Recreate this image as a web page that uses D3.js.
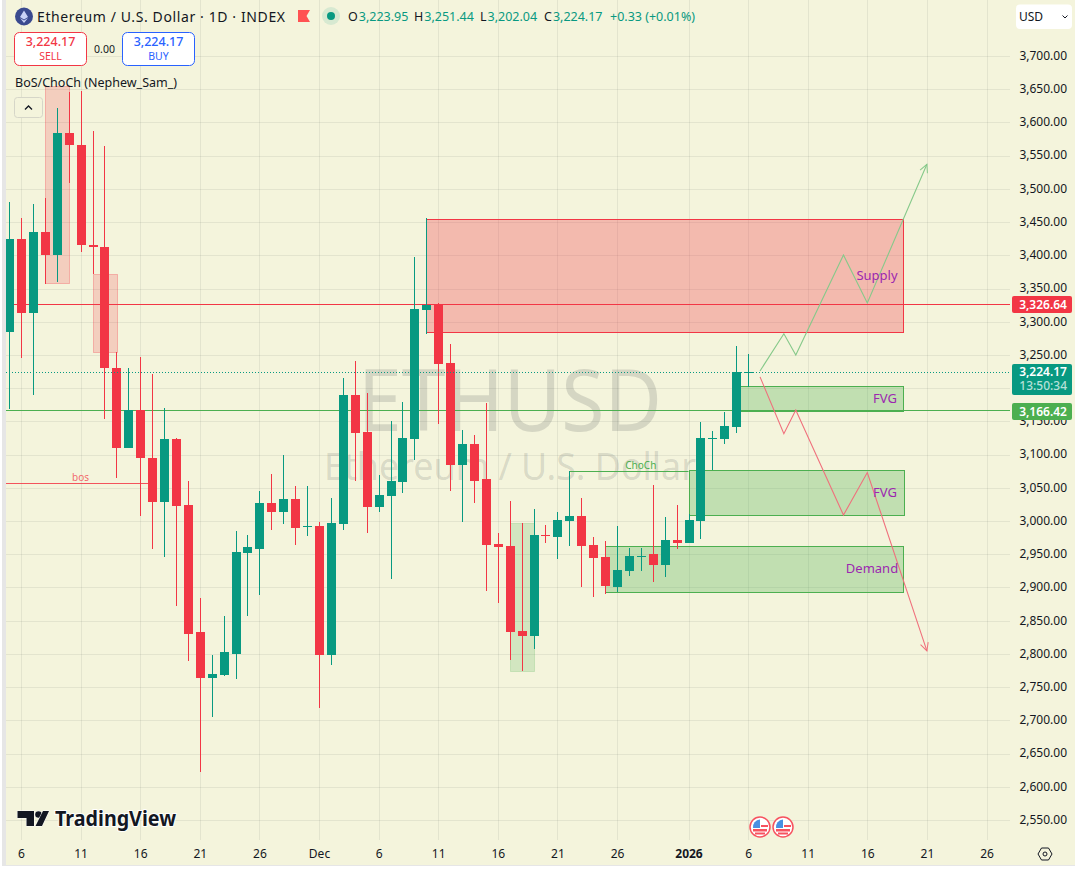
<!DOCTYPE html>
<html>
<head>
<meta charset="utf-8">
<title>ETHUSD</title>
<script src="https://cdn.jsdelivr.net/npm/d3@7"></script>
<style>
  html, body { margin: 0; padding: 0; background: #fff; overflow: hidden; }
  svg { display: block; font-family: "Noto Sans", sans-serif; }
  .domain, .tick line { display: none; }
</style>
</head>
<body>
<script>
// daily candles, first one is 5 Nov (day -1), last one is 6 Jan (day 61)
const opens = [3285,3424.5,3313.6,3435.1,3400.5,3584.1,3566,3415.5,3412.5,3230.8,3110.4,3167.1,3095.4,3029.1,3123.5,3024.2,2833,2764.2,2768.3,2800.3,2951.9,2958.4,3027.2,3014,3033.2,2991,2992.5,2798.8,2996,3189.7,3134,3021.6,3037.7,3059,3124,3317.7,3325.6,3237.9,3084.8,3116,3063.3,2965.4,2962.4,2834.5,2827,2979.5,2976,3000,3007.6,2963.9,2945.9,2900.7,2924.8,2946,2950.4,2933.8,2971.5,2967,3000.5,3124.5,3124,3142,3223.95];
const highs = [3480.2,3456.2,3477.2,3486.3,3621.7,3645.8,3647.3,3587.1,3564.5,3254.5,3230.4,3247,3221.3,3170.2,3125,3060.3,2884.2,2798.4,2857.1,2985,2979,3045.2,3070.8,3099.4,3052.8,3052.8,2998.6,3034.7,3215.3,3240.9,3192.7,3069.3,3150.6,3179.2,3397.4,3455.7,3328.2,3266.5,3137,3129.5,3177.7,2982,3030.2,2997,3018.1,2994,3013.6,3075.3,3034.7,2976,2970,2992.5,2959.4,2959.4,3054.3,3006.1,3024.2,3010,3149.1,3135.5,3164.6,3263.5,3251.44];
const lows = [3169.1,3245.9,3190.2,3357.3,3360.3,3509.3,3405.4,3371.9,3154,3065.2,3110,3008,2958.4,2946.3,2872.6,2789.8,2622.7,2705.5,2766.8,2762.2,2857.5,2888.7,2987,2996,2964.4,2977.9,2719,2783.8,2987,3060.7,2982.5,3014,2913.2,3042.7,3092.3,3281.5,3146.5,3045.7,2999,3027.6,2895.2,2877.1,2790.8,2774.3,2807.4,2967,2942.9,2962.4,2900.7,2885.7,2890.6,2893.2,2917.3,2924.8,2908.2,2915.8,2958,2967,2973,3076.8,3116.4,3133,3202.04];
const closes = [3424.5,3313.6,3435.1,3400.5,3584.1,3566,3415.5,3412.5,3230.8,3110.4,3167.1,3095.4,3029.1,3123.5,3023.1,2830.4,2764.2,2769.8,2802.9,2953.4,2960.9,3027.2,3014,3033.2,2990,2992.5,2798.8,2997,3189.7,3133,3021.6,3039.2,3060.3,3125,3319.2,3325.6,3236.8,3084.8,3116,3060.7,2963.9,2960.9,2833,2827,2979,2978,3001.6,3007.6,2962.4,2944.4,2902.2,2926.3,2947.4,2948,2933.8,2971.5,2967,3001.6,3125,3125.5,3143,3224,3224.17];
const firstDay = -1;

const priceTicks = d3.range(2550, 3701, 50);
const dayTicks = [0, 5, 10, 15, 20, 25, 30, 35, 40, 45, 50, 56, 61, 66, 71, 76, 81];
const dayLabels = ["6", "11", "16", "21", "26", "Dec", "6", "11", "16", "21", "26", "2026", "6", "11", "16", "21", "26"];

// zones: [first day, last day, top price, bottom price]
const redBoxes = [[2, 4, 3654.8, 3358.8], [6, 8, 3371.9, 3254]];
const greenBoxes = [[41, 43, 2996.6, 2773.8]];
const supplyZones = [[34, 74, 3454.2, 3284.1]];
const demandZones = [[60, 74, 3202.8, 3165.6], [56, 74, 3076.4, 3008.6], [49, 74, 2962, 2892.7]];

// projected paths
const upDays = [62, 64, 65, 69, 71, 76];
const upPrices = [3225.9, 3282, 3250, 3400.5, 3328.2, 3537];
const downDays = [62, 64, 65, 69, 71, 76];
const downPrices = [3217, 3131.5, 3167, 3009, 3073, 2804.5];

const redLevel = 3326.64;
const greenLevel = 3166.42;
const lastPrice = 3224.17;
const bosLevel = 3056.8;
const chochLevel = 3075;

const green = "#089981", red = "#f23645", zoneGreen = "#4caf50", ink = "#131722", bg = "#f4f4dc";
const W = 1075, H = 869;

const svg = d3.select("body").append("svg").attr("width", W).attr("height", H);
const x = d3.scaleLinear().domain([0, 81]).range([21, 986.5]);
const y = d3.scaleLinear().domain([2550, 3700]).range([820, 56]);
const px = v => Math.round(v) + 0.5;

svg.append("rect").attr("width", W).attr("height", H).attr("fill", "#fff");
svg.append("rect").attr("x", 2).attr("y", 0).attr("width", W - 2).attr("height", 866).attr("fill", "#e6e6e6");
svg.append("rect").attr("x", 6).attr("y", 0).attr("width", W - 6).attr("height", 865).attr("fill", bg);

svg.append("clipPath").attr("id", "plot").append("rect")
    .attr("x", 6).attr("y", 0).attr("width", 1004).attr("height", 840);
const plot = svg.append("g").attr("clip-path", "url(#plot)");

// grid
plot.selectAll(".gx").data(dayTicks).join("line")
    .attr("x1", d => px(x(d))).attr("x2", d => px(x(d)))
    .attr("y1", 0).attr("y2", 840)
    .attr("stroke", "#2a2e39").attr("stroke-opacity", 0.08);
plot.selectAll(".gy").data(priceTicks).join("line")
    .attr("x1", 6).attr("x2", 1010)
    .attr("y1", d => px(y(d))).attr("y2", d => px(y(d)))
    .attr("stroke", "#2a2e39").attr("stroke-opacity", 0.08);

// watermark
plot.append("text").attr("x", 510).attr("y", 431).attr("text-anchor", "middle")
    .attr("font-size", 86).attr("textLength", 304).attr("lengthAdjust", "spacingAndGlyphs")
    .attr("fill", "#2a2e39").attr("fill-opacity", 0.15).text("ETHUSD");
plot.append("text").attr("x", 510).attr("y", 480).attr("text-anchor", "middle")
    .attr("font-size", 39).attr("textLength", 372).attr("lengthAdjust", "spacingAndGlyphs")
    .attr("fill", "#2a2e39").attr("fill-opacity", 0.15).text("Ethereum / U.S. Dollar");

function drawZones(data, fill, opacity, stroke, strokeOpacity) {
    plot.append("g").selectAll("rect").data(data).join("rect")
        .attr("x", d => px(x(d[0])))
        .attr("y", d => px(y(d[2])))
        .attr("width", d => Math.round(x(d[1]) - x(d[0])))
        .attr("height", d => Math.round(y(d[3]) - y(d[2])))
        .attr("fill", fill).attr("fill-opacity", opacity)
        .attr("stroke", stroke).attr("stroke-opacity", strokeOpacity);
}
drawZones(redBoxes, red, 0.2, red, 0.3);
drawZones(greenBoxes, zoneGreen, 0.2, zoneGreen, 0.2);
drawZones(supplyZones, red, 0.3, red, 1);
drawZones(demandZones, zoneGreen, 0.3, zoneGreen, 1);

// horizontal levels
function level(price, x1, x2, color, opacity) {
    plot.append("line")
        .attr("x1", x1).attr("x2", x2)
        .attr("y1", px(y(price))).attr("y2", px(y(price)))
        .attr("stroke", color).attr("stroke-opacity", opacity || 1);
}
level(redLevel, 6, 1012, red);
level(greenLevel, 6, 1012, zoneGreen);
level(bosLevel, 6, x(11), red, 0.85);
level(chochLevel, x(46), x(56), zoneGreen);

plot.append("text").attr("x", x(5)).attr("y", 481).attr("text-anchor", "middle")
    .attr("font-size", 10).attr("fill", red).attr("fill-opacity", 0.75).text("bos");
plot.append("text").attr("x", x(52)).attr("y", 469).attr("text-anchor", "middle")
    .attr("font-size", 10).attr("fill", zoneGreen).text("ChoCh");

// candles
const candles = opens.map((o, i) => ({ day: firstDay + i, o, h: highs[i], l: lows[i], c: closes[i] }));
const isUp = d => d.c >= d.o;
const candleG = plot.append("g");
candleG.selectAll("line").data(candles).join("line")
    .attr("x1", d => px(x(d.day))).attr("x2", d => px(x(d.day)))
    .attr("y1", d => Math.round(y(d.h))).attr("y2", d => Math.round(y(d.l)))
    .attr("stroke", d => isUp(d) ? green : red);
candleG.selectAll("rect").data(candles).join("rect")
    .attr("x", d => Math.round(x(d.day)) - 4)
    .attr("width", 9)
    .attr("y", d => Math.round(y(Math.max(d.o, d.c))))
    .attr("height", d => Math.max(1, Math.round(y(Math.min(d.o, d.c))) - Math.round(y(Math.max(d.o, d.c)))))
    .attr("fill", d => isUp(d) ? green : red);

// last price dotted line
plot.append("line")
    .attr("x1", 6).attr("x2", 1012)
    .attr("y1", px(y(lastPrice))).attr("y2", px(y(lastPrice)))
    .attr("stroke", green).attr("stroke-dasharray", "1 2");

// projected paths with open arrow heads
const defs = svg.append("defs");
function arrowPath(days, prices, color, id) {
    defs.append("marker").attr("id", id)
        .attr("viewBox", "-10 -6 12 12").attr("refX", 0).attr("refY", 0)
        .attr("markerWidth", 12).attr("markerHeight", 12).attr("markerUnits", "userSpaceOnUse")
        .attr("orient", "auto")
        .append("path").attr("d", "M-8,-4 L0,0 L-8,4").attr("fill", "none").attr("stroke", color);
    const line = d3.line().x(d => x(d)).y((d, i) => y(prices[i]));
    plot.append("path").attr("d", line(days)).attr("fill", "none")
        .attr("stroke", color).attr("stroke-width", 1.1)
        .attr("marker-end", `url(#${id})`);
}
arrowPath(upDays, upPrices, "#86c98a", "arrow-up");
arrowPath(downDays, downPrices, "#f0707c", "arrow-down");

// zone labels
const zoneLabels = [["Supply", 877, 280], ["FVG", 885, 403], ["FVG", 885, 497], ["Demand", 872, 573]];
plot.selectAll(".zl").data(zoneLabels).join("text")
    .attr("x", d => d[1]).attr("y", d => d[2]).attr("text-anchor", "middle")
    .attr("font-size", 13).attr("fill", "#9c27b0").text(d => d[0]);

// axes
const yAxis = svg.append("g").attr("transform", "translate(1067,-0.5)")
    .call(d3.axisRight(y).tickValues(priceTicks).tickFormat(d3.format(",.2f")).tickSize(0));
yAxis.selectAll("text").attr("x", 0).attr("text-anchor", "end")
    .attr("font-size", 12).attr("font-family", "'Noto Sans', sans-serif").attr("fill", ink);

const xAxis = svg.append("g").attr("transform", "translate(0,849)")
    .call(d3.axisBottom(x).tickValues(dayTicks).tickFormat((d, i) => dayLabels[i]).tickSize(0).tickPadding(0));
xAxis.selectAll("text")
    .attr("font-size", 12).attr("font-family", "'Noto Sans', sans-serif").attr("fill", ink)
    .attr("font-weight", (d, i) => dayLabels[i] === "2026" ? 700 : 400);

// price tags on the axis
function priceTag(top, height, color, lines) {
    svg.append("rect").attr("x", 1012).attr("y", top).attr("width", 60).attr("height", height)
        .attr("rx", 2).attr("fill", color);
    lines.forEach(l => svg.append("text").attr("x", 1067).attr("y", l.y).attr("text-anchor", "end")
        .attr("font-size", 12).attr("font-weight", l.weight).attr("fill", l.fill).text(l.text));
}
const money = d3.format(",.2f");
priceTag(296, 17, red, [{ text: money(redLevel), y: 309, fill: "#fff", weight: 600 }]);
priceTag(364, 31, green, [
    { text: money(lastPrice), y: 376, fill: "#fff", weight: 600 },
    { text: "13:50:34", y: 390, fill: "#b5e0d8", weight: 500 }
]);
priceTag(403, 17, zoneGreen, [{ text: money(greenLevel), y: 416, fill: "#fff", weight: 600 }]);

// USD button
svg.append("rect").attr("x", 1016).attr("y", 4.5).attr("width", 56).attr("height", 24.5)
    .attr("rx", 4).attr("fill", "#fff");
svg.append("text").attr("x", 1019).attr("y", 21).attr("font-size", 12).attr("fill", ink).text("USD");
svg.append("path").attr("d", "M1062.5 15.5 L1065 18 L1067.5 15.5").attr("fill", "none").attr("stroke", ink);

// header
svg.append("circle").attr("cx", 24).attr("cy", 16.5).attr("r", 9).attr("fill", "#3a4a8f");
svg.append("path").attr("d", "M24 10.5 L28 17 L24 19.5 L20 17 Z M20 18 L24 20.5 L28 18 L24 23 Z").attr("fill", "#c9d2f5");
svg.append("text").attr("x", 37).attr("y", 21.5).attr("font-size", 14).attr("fill", ink)
    .attr("textLength", 248).attr("lengthAdjust", "spacing").text("Ethereum / U.S. Dollar · 1D · INDEX");
svg.append("path").attr("d", "M298 10 H310 L306.5 16 L310 22 H298 Z").attr("fill", "#ff5252");
svg.append("circle").attr("cx", 331).attr("cy", 16).attr("r", 9).attr("fill", green).attr("fill-opacity", 0.12);
svg.append("circle").attr("cx", 331).attr("cy", 16).attr("r", 4).attr("fill", green);

const ohlc = [["O", 348, opens], ["H", 414, highs], ["L", 480, lows], ["C", 544, closes]];
ohlc.forEach(([letter, left, values]) => {
    const t = svg.append("text").attr("x", left).attr("y", 21).attr("font-size", 12.5).attr("fill", green);
    t.append("tspan").attr("fill", ink).text(letter);
    t.append("tspan").attr("dx", 1).text(money(values[values.length - 1]));
});
svg.append("text").attr("x", 610).attr("y", 21).attr("font-size", 12.5).attr("fill", green).text("+0.33 (+0.01%)");

// sell / buy
function tradeButton(left, color, label) {
    svg.append("rect").attr("x", left).attr("y", 32.5).attr("width", 72).attr("height", 33)
        .attr("rx", 5).attr("fill", "#fff").attr("stroke", color);
    svg.append("text").attr("x", left + 36).attr("y", 46).attr("text-anchor", "middle")
        .attr("font-size", 12.5).attr("font-weight", 500).attr("fill", color).text(money(lastPrice));
    svg.append("text").attr("x", left + 36).attr("y", 60).attr("text-anchor", "middle")
        .attr("font-size", 10.5).attr("fill", color).text(label);
}
tradeButton(14.5, red, "SELL");
tradeButton(122.5, "#2962ff", "BUY");
svg.append("text").attr("x", 104.5).attr("y", 52.5).attr("text-anchor", "middle")
    .attr("font-size", 10.5).attr("fill", ink).text("0.00");

svg.append("text").attr("x", 15).attr("y", 87).attr("font-size", 12.5).attr("fill", ink).text("BoS/ChoCh (Nephew_Sam_)");
svg.append("rect").attr("x", 14.5).attr("y", 97.5).attr("width", 28).attr("height", 20)
    .attr("rx", 3).attr("fill", bg).attr("stroke", "#d6d6c8");
svg.append("path").attr("d", "M25 109.5 L28.5 106 L32 109.5").attr("fill", "none").attr("stroke", ink).attr("stroke-width", 1.3);

// TradingView logo
const logo = svg.append("g").attr("fill", "#131722").attr("stroke", "#fff").attr("stroke-width", 1).attr("paint-order", "stroke");
logo.append("path").attr("d", "M17.5 811 H34 V826 H26.5 V818 H17.5 Z");
logo.append("circle").attr("cx", 38.5).attr("cy", 814.5).attr("r", 3.3);
logo.append("path").attr("d", "M43 811 H49 L42 826 H35.5 Z");
svg.append("text").attr("x", 55).attr("y", 826).attr("font-size", 20.5).attr("font-weight", 700)
    .attr("textLength", 121).attr("lengthAdjust", "spacingAndGlyphs")
    .attr("fill", "#131722").attr("stroke", "#fff").attr("stroke-width", 2).attr("paint-order", "stroke")
    .text("TradingView");

// event flags
[760, 783].forEach(cx => {
    const f = svg.append("g").attr("transform", `translate(${cx},827)`);
    f.append("circle").attr("r", 10).attr("fill", "#fff").attr("stroke", "#f7525f").attr("stroke-width", 1.5);
    f.append("rect").attr("x", -7).attr("y", 2).attr("width", 14).attr("height", 2.5).attr("fill", "#f7525f");
    f.append("rect").attr("x", -5).attr("y", 5.5).attr("width", 10).attr("height", 2).attr("fill", "#f7525f");
    f.append("rect").attr("x", 1).attr("y", -2).attr("width", 7).attr("height", 2).attr("fill", "#f7525f");
    f.append("path").attr("d", "M-7 1 A7.5 7.5 0 0 1 0 -7.5 V1 Z").attr("fill", "#4a90e2");
});

// settings icon
svg.append("path").attr("d", "M1038 854 L1041.5 848 H1048.5 L1052 854 L1048.5 860 H1041.5 Z")
    .attr("fill", "none").attr("stroke", ink);
svg.append("circle").attr("cx", 1045).attr("cy", 854).attr("r", 2).attr("fill", "none").attr("stroke", ink);
</script>
</body>
</html>
